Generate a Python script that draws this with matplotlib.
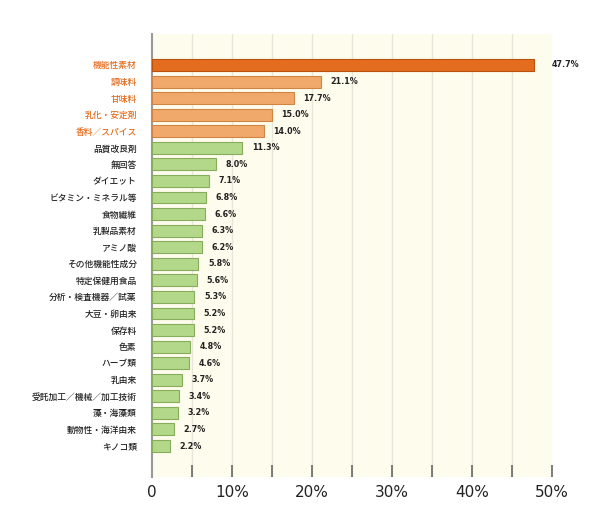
import matplotlib
matplotlib.use("Agg")
import matplotlib.pyplot as plt
import numpy as np

plt.rcParams['font.family'] = ['Noto Sans CJK JP', 'DejaVu Sans']

categories = ["機能性素材", "調味料", "甘味料", "乳化・安定剤", "香料／スパイス", "品質改良剤",
              "無回答", "ダイエット", "ビタミン・ミネラル等", "食物繊維", "乳製品素材", "アミノ酸",
              "その他機能性成分", "特定保健用食品", "分析・検査機器／試薬", "大豆・卵由来", "保存料",
              "色素", "ハーブ類", "乳由来", "受託加工／機械／加工技術", "藻・海藻類", "動物性・海洋由来", "キノコ類"]
values = [47.7, 21.1, 17.7, 15.0, 14.0, 11.3, 8.0, 7.1, 6.8, 6.6, 6.3, 6.2,
          5.8, 5.6, 5.3, 5.2, 5.2, 4.8, 4.6, 3.7, 3.4, 3.2, 2.7, 2.2]
tick_values = [0, 10, 20, 30, 40, 50]
tick_labels = ["0", "10%", "20%", "30%", "40%", "50%"]

fig = plt.figure(figsize=(6.0, 5.21), dpi=100)
ax = fig.add_axes([152/600, 1-477/521, 400/600, 443/521])
ax.set_facecolor("#FEFCEC")

n = len(categories)
y = np.arange(n)
face = []
edge = []
tcol = []
for i in range(n):
    if i == 0:
        face.append("#E36C1E"); edge.append("#B8520E"); tcol.append("#E36C1E")
    elif i < 5:
        face.append("#F1A96B"); edge.append("#D08545"); tcol.append("#E36C1E")
    else:
        face.append("#B3D88A"); edge.append("#86AD5C"); tcol.append("#222222")

ax.barh(y, values, height=0.72, color=face, edgecolor=edge, linewidth=0.8, zorder=3)
ax.set_ylim(n - 1 + 1.87, -1.87)
ax.set_xlim(0, 50)

for x in np.arange(5, 50, 5):
    ax.axvline(x, color="#E8E6DA", linewidth=1.0, zorder=1)

for i, v in enumerate(values):
    off = 2.2 if i == 0 else 1.2
    ax.text(v + off, i, f"{v:.1f}%", va="center", ha="left", fontsize=5.8,
            fontweight="bold", color="#222222", family=['DejaVu Sans'], clip_on=False)

ax.set_yticks(y)
ax.set_yticklabels(categories, fontsize=6.3, fontweight="medium")
for lbl, c in zip(ax.get_yticklabels(), tcol):
    lbl.set_color(c)
ax.tick_params(axis='y', length=0, pad=11)

ax.set_xticks(np.arange(0, 55, 5))
ax.set_xticklabels([tick_labels[tick_values.index(t)] if t in tick_values else "" for t in range(0, 55, 5)],
                   fontsize=11, family=['DejaVu Sans'], color="#222222")
ax.tick_params(axis='x', direction='in', length=9, width=1.2, color="#666666", pad=6)

for s in ["top", "right", "bottom"]:
    ax.spines[s].set_visible(False)
ax.spines["left"].set_color("#999999")
ax.spines["left"].set_linewidth(1.5)

fig.savefig("out.png", dpi=100)
